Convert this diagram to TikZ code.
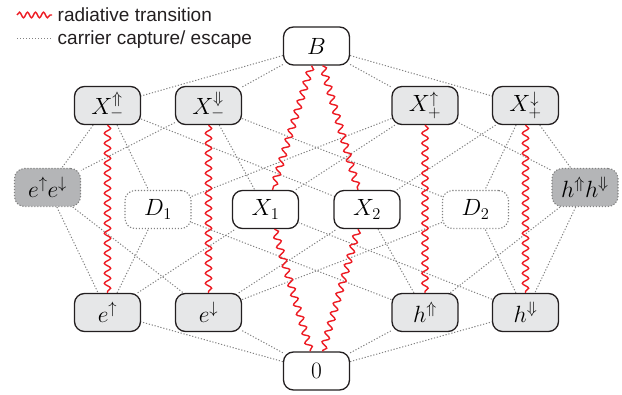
\RequirePackage{fix-cm}
\documentclass[tikz,border=0pt]{standalone}
\usepackage{fontspec}
\setsansfont{Liberation Sans}
\usetikzlibrary{decorations.pathmorphing,backgrounds}
\definecolor{lgray}{RGB}{230,231,232}
\definecolor{dgray}{RGB}{180,181,183}
\definecolor{dotgray}{RGB}{130,130,130}
\definecolor{radred}{RGB}{237,28,36}
\definecolor{txt}{RGB}{35,31,32}
\tikzset{
  st/.style={draw=txt, line width=1.3pt, rounded corners=10pt, minimum width=66pt,
    minimum height=38pt, inner sep=0pt, font=\fontsize{23.5}{28}\selectfont},
  wst/.style={st, fill=white},
  gst/.style={st, fill=lgray},
  dgst/.style={st, fill=dgray, draw=dotgray, line width=1.1pt, dash pattern=on 1.2pt off 1.8pt},
  dst/.style={st, fill=white, draw=dotgray, line width=1.1pt, dash pattern=on 1.2pt off 1.8pt},
  capt/.style={draw=dotgray, line width=1pt, dash pattern=on 1.2pt off 1.8pt},
  rad/.style={draw=radred, line width=1.4pt, decorate,
    decoration={snake, segment length=10pt, amplitude=3.2pt}},
  legtext/.style={anchor=base west, inner sep=0pt, text=txt,
    font=\sffamily\fontsize{19}{22}\selectfont}
}
\begin{document}
\begin{tikzpicture}[x=1pt,y=-1pt]
\useasboundingbox (0,0) rectangle (622,395);
% nodes
\node[wst] (B) at (316.5,46) {$B$};
\node[gst] (Xmu) at (107.5,105.5) {$X^{\Uparrow}_{-}$};
\node[gst] (Xmd) at (208.5,105.5) {$X^{\Downarrow}_{-}$};
\node[gst] (Xpu) at (425,105.5) {$X^{\uparrow}_{+}$};
\node[gst] (Xpd) at (525.5,105.5) {$X^{\downarrow}_{+}$};
\node[dgst] (ee) at (47.5,187.5) {$e^{\uparrow}e^{\downarrow}$};
\node[dgst] (hh) at (585,187.5) {$h^{\Uparrow}h^{\Downarrow}$};
\node[dst] (D1) at (158,209.5) {$D_1$};
\node[wst] (X1) at (265.5,209.5) {$X_1$};
\node[wst] (X2) at (367,209.5) {$X_2$};
\node[dst] (D2) at (475.5,209.5) {$D_2$};
\node[gst] (eu) at (107.5,312.5) {$e^{\uparrow}$};
\node[gst] (ed) at (208.5,312.5) {$e^{\downarrow}$};
\node[gst] (hu) at (425,312.5) {$h^{\Uparrow}$};
\node[gst] (hd) at (525.5,312.5) {$h^{\Downarrow}$};
\node[wst] (zero) at (316.5,371) {$0$};
% legend
\coordinate (la) at (17,15);
\coordinate (lb) at (52,15);
\coordinate (lc) at (17,39);
\coordinate (ld) at (52,39);
\draw[rad, decoration={snake, segment length=8pt, amplitude=2.8pt}] (la) -- (lb);
\draw[capt] (lc) -- (ld);
\node[legtext] (t1) at (57.5,22) {radiative transition};
\node[legtext] (t2) at (57.5,44.5) {carrier capture/ escape};
% connectors
\begin{scope}[on background layer]
\foreach \a/\b in {B/Xmu,B/Xmd,B/Xpu,B/Xpd,
  Xmu/ee,Xmu/D1,Xmu/X2,
  Xmd/ee,Xmd/X1,Xmd/D2,
  Xpu/hh,Xpu/D1,Xpu/X1,
  Xpd/hh,Xpd/X2,Xpd/D2,
  ee/eu,ee/ed,hh/hu,hh/hd,
  eu/D1,eu/X1,ed/X2,ed/D2,
  hu/D1,hu/X2,hd/X1,hd/D2,
  zero/eu,zero/ed,zero/hu,zero/hd}
  {\draw[capt] (\a) -- (\b);}
\end{scope}
% radiative transitions
\draw[rad] (Xmu.south) -- (eu.north);
\draw[rad] (Xmd.south) -- (ed.north);
\draw[rad] (Xpu.south) -- (hu.north);
\draw[rad] (Xpd.south) -- (hd.north);
\draw[rad] ([xshift=-5pt]B.south) -- ([xshift=7pt]X1.north);
\draw[rad] ([xshift=6pt]B.south) -- ([xshift=-9pt]X2.north);
\draw[rad] ([xshift=9pt]X1.south) -- ([xshift=-6pt]zero.north);
\draw[rad] ([xshift=-9pt]X2.south) -- ([xshift=6pt]zero.north);
\end{tikzpicture}
\end{document}
